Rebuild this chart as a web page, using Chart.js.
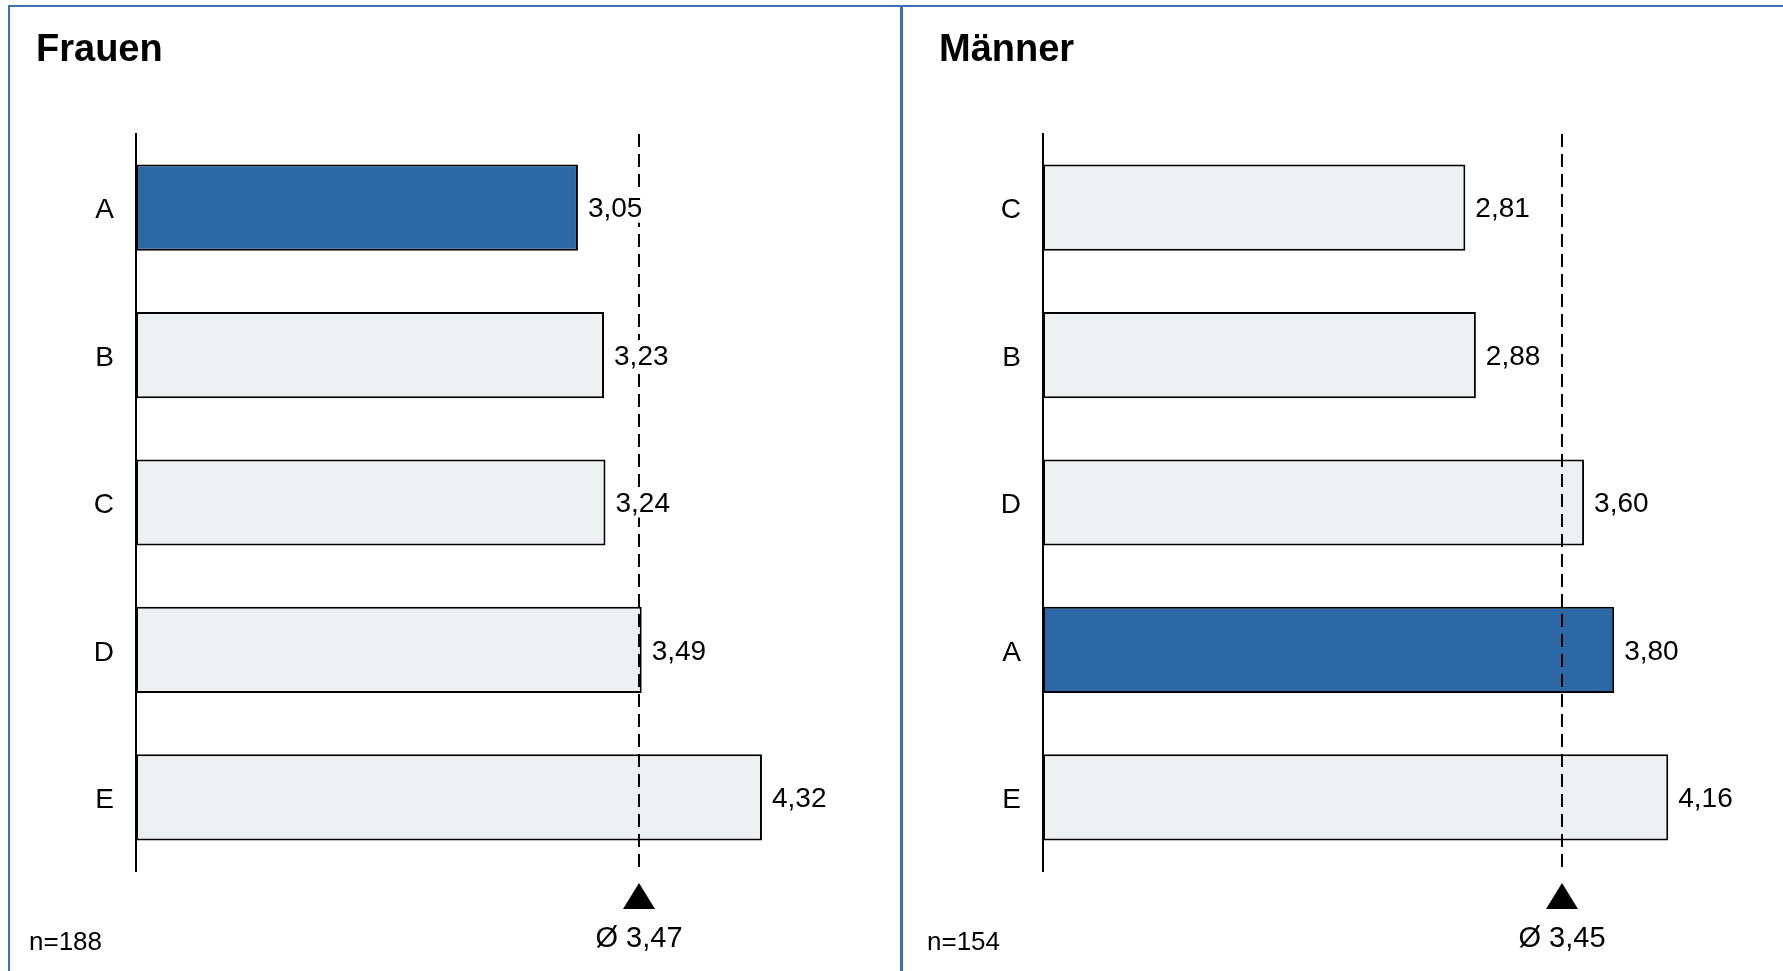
<!DOCTYPE html>
<html lang="de">
<head>
<meta charset="utf-8">
<title>Frauen / Männer</title>
<script src="https://cdn.jsdelivr.net/npm/chart.js@4.4.1/dist/chart.umd.min.js"></script>
<style>
  html, body { margin: 0; padding: 0; background: #ffffff; overflow: hidden; }
  body { width: 1783px; height: 971px; position: relative; }
  canvas { position: absolute; top: 0; }
  #cFrauen { left: 0; }
  #cMaenner { left: 903px; }
  .frame { position: absolute; background: #3d71b3; z-index: 5; }
</style>
</head>
<body>
<canvas id="cFrauen" width="900" height="971"></canvas>
<canvas id="cMaenner" width="897" height="971"></canvas>
<div class="frame" style="left:8px; top:5px; width:1775px; height:2px;"></div>
<div class="frame" style="left:8px; top:5px; width:2px; height:966px;"></div>
<div class="frame" style="left:900px; top:5px; width:3px; height:966px;"></div>
<script>
// Panel "Frauen"
const frauenCategories = ['A', 'B', 'C', 'D', 'E'];
const frauenValues = [3.05, 3.23, 3.24, 3.49, 4.32];
const frauenMean = 3.47;
const frauenN = 188;

// Panel "Männer"
const maennerCategories = ['C', 'B', 'D', 'A', 'E'];
const maennerValues = [2.81, 2.88, 3.60, 3.80, 4.16];
const maennerMean = 3.45;
const maennerN = 154;

const highlightCategory = 'A';
const scaleMin = 0;
const scaleMax = 5;

const FONT = '"Liberation Sans", Arial, Helvetica, sans-serif';
const BLUE = '#2c68a6';
const LIGHT = '#edf0f1';

const fmt = v => v.toFixed(2).replace('.', ',');

function panelPlugin(cfg) {
  return {
    id: 'panelDecor',
    afterDatasetsDraw(chart) {
      const ctx = chart.ctx;
      const area = chart.chartArea;
      const xs = chart.scales.x;
      const mx = Math.round(xs.getPixelForValue(cfg.mean));

      // dashed mean line over the bars
      ctx.save();
      ctx.strokeStyle = '#000';
      ctx.lineWidth = 2;
      ctx.setLineDash([13, 7]);
      ctx.beginPath();
      ctx.moveTo(mx, area.top);
      ctx.lineTo(mx, area.bottom + 2);
      ctx.stroke();
      ctx.restore();

      // triangle marker + mean label
      ctx.save();
      ctx.fillStyle = '#000';
      ctx.beginPath();
      ctx.moveTo(mx, area.bottom + 12);
      ctx.lineTo(mx + 16, area.bottom + 38);
      ctx.lineTo(mx - 16, area.bottom + 38);
      ctx.closePath();
      ctx.fill();
      ctx.font = '29px ' + FONT;
      ctx.textAlign = 'center';
      ctx.textBaseline = 'alphabetic';
      ctx.fillText('Ø ' + fmt(cfg.mean), mx, 947);
      ctx.restore();

      // value labels with white backing
      const meta = chart.getDatasetMeta(0);
      ctx.save();
      ctx.font = '28px ' + FONT;
      ctx.textBaseline = 'middle';
      ctx.textAlign = 'left';
      meta.data.forEach((bar, i) => {
        const txt = fmt(chart.data.datasets[0].data[i]);
        const tx = bar.x + 10;
        const w = ctx.measureText(txt).width;
        ctx.fillStyle = '#fff';
        ctx.fillRect(tx - 2, bar.y - 15, w + 4, 30);
        ctx.fillStyle = '#000';
        ctx.fillText(txt, tx, bar.y + 2);
      });
      ctx.restore();

      // panel title and sample size
      ctx.save();
      ctx.fillStyle = '#000';
      ctx.textAlign = 'left';
      ctx.textBaseline = 'alphabetic';
      ctx.font = 'bold 38px ' + FONT;
      ctx.fillText(cfg.title, cfg.titleX, 61);
      ctx.font = '26px ' + FONT;
      ctx.fillText('n=' + cfg.n, cfg.nX, 950);
      ctx.restore();
    }
  };
}

function makePanel(canvasId, categories, values, cfg) {
  return new Chart(document.getElementById(canvasId), {
    type: 'bar',
    data: {
      labels: categories,
      datasets: [{
        data: values,
        backgroundColor: categories.map(c => c === highlightCategory ? BLUE : LIGHT),
        borderColor: '#000',
        borderWidth: 2,
        borderSkipped: false,
        categoryPercentage: 1,
        barPercentage: 0.585
      }]
    },
    options: {
      indexAxis: 'y',
      responsive: false,
      animation: false,
      devicePixelRatio: 1,
      layout: { padding: { top: 134, bottom: 100, left: 0, right: cfg.padRight } },
      plugins: { legend: { display: false }, tooltip: { enabled: false } },
      scales: {
        x: { display: false, min: scaleMin, max: scaleMax },
        y: {
          grid: { display: false },
          border: { display: true, color: '#000', width: 2 },
          ticks: { color: '#000', font: { family: FONT, size: 28 }, padding: 14, labelOffset: 3 },
          afterFit(scale) { scale.width = cfg.axisWidth; }
        }
      }
    },
    plugins: [panelPlugin(cfg)]
  });
}

makePanel('cFrauen', frauenCategories, frauenValues, {
  title: 'Frauen', mean: frauenMean, n: frauenN,
  titleX: 36, nX: 29, axisWidth: 136, padRight: 39.5
});

makePanel('cMaenner', maennerCategories, maennerValues, {
  title: 'Männer', mean: maennerMean, n: maennerN,
  titleX: 36, nX: 24, axisWidth: 140, padRight: 5.5
});
</script>
</body>
</html>
